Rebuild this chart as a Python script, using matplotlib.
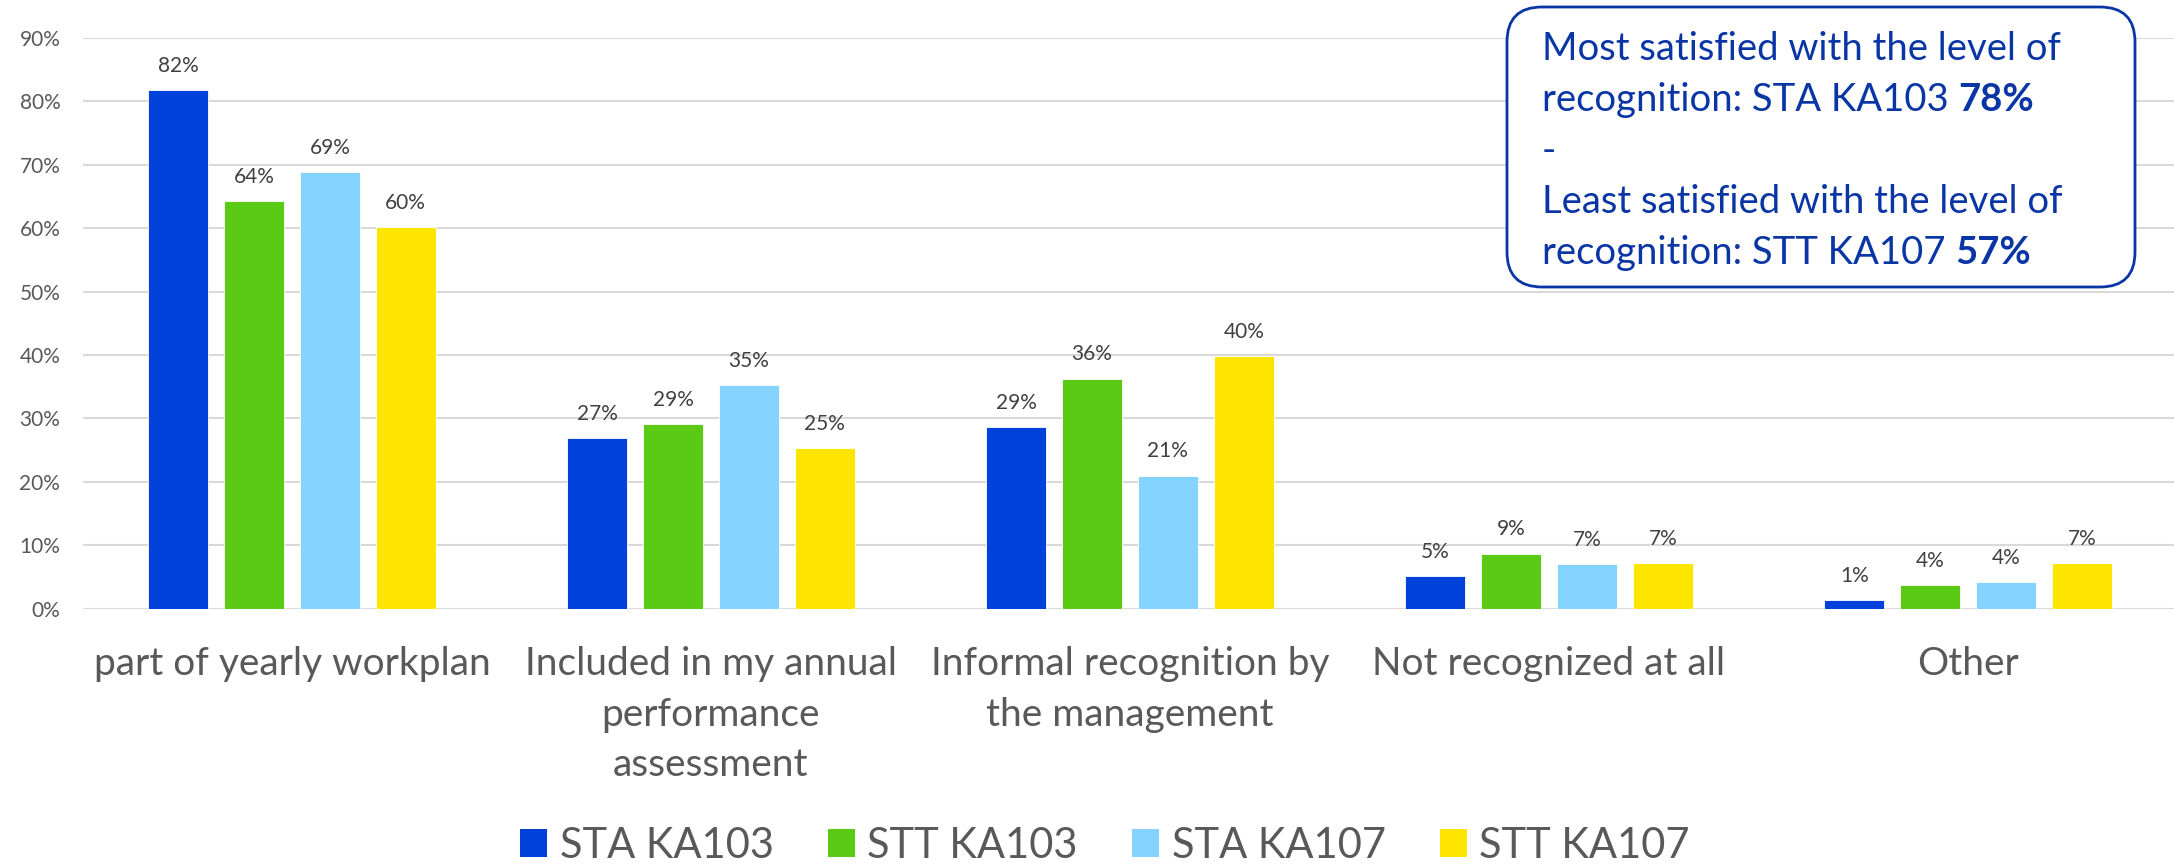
import numpy as np
import matplotlib
matplotlib.use("Agg")
import matplotlib.pyplot as plt
from matplotlib.patches import Patch, FancyBboxPatch
from matplotlib.text import Annotation
from matplotlib.transforms import IdentityTransform

categories = ["part of yearly workplan",
              "Included in my annual\nperformance\nassessment",
              "Informal recognition by\nthe management",
              "Not recognized at all",
              "Other"]
series = ["STA KA103", "STT KA103", "STA KA107", "STT KA107"]
sta_ka103 = [81.8, 26.9, 28.6, 5.2, 1.3]
stt_ka103 = [64.3, 29.1, 36.3, 8.7, 3.7]
sta_ka107 = [68.9, 35.2, 21.0, 7.0, 4.2]
stt_ka107 = [60.2, 25.4, 39.8, 7.2, 7.2]
colors = ["#0041DB", "#5BCA14", "#85D3FF", "#FFE600"]
yticks = list(range(0, 100, 10))

box_lines = ["Most satisfied with the level of",
             "recognition: STA KA103",
             "-",
             "Least satisfied with the level of",
             "recognition: STT KA107"]
box_bold = [None, "78%", None, None, "57%"]

plt.rcParams['font.family'] = ['Lato', 'DejaVu Sans']

W, H = 2174, 864
fig = plt.figure(figsize=(W / 100, H / 100), dpi=100)
ax = fig.add_axes([82.5 / W, 1 - 608.7 / H, 2095 / W, 570.7 / H])

x = np.arange(len(categories))
bw = 0.143
step = 0.181
for i, (vals, c) in enumerate(zip([sta_ka103, stt_ka103, sta_ka107, stt_ka107], colors)):
    xs = x + (i - 1.5) * step
    ax.bar(xs, vals, width=bw, color=c, edgecolor="white", linewidth=0.6, zorder=3)
    for xx, v in zip(xs, vals):
        ax.annotate(f"{round(v)}%", xy=(xx, v), xytext=(0, 13), textcoords="offset points",
                    ha="center", va="baseline", fontsize=15, color="#404040")

ax.set_xlim(-0.5, len(categories) - 0.5)
ax.set_ylim(0, 90)
ax.set_yticks(yticks)
ax.set_yticklabels([f"{t}%" for t in yticks], fontsize=15, color="#595959")
ax.set_xticks(x)
ax.set_xticklabels(categories, fontsize=28, color="#595959")
for lab in ax.get_xticklabels():
    lab.set_linespacing(1.5)
ax.tick_params(length=0)
ax.tick_params(axis="y", pad=16)
ax.tick_params(axis="x", pad=27)
for s in ax.spines.values():
    s.set_visible(False)
ax.grid(axis="y", color="#D9D9D9", linewidth=1.5, zorder=0)
ax.set_axisbelow(True)

# callout box
box = FancyBboxPatch((1507, H - 287), 628, 280, boxstyle="round,pad=0,rounding_size=35",
                     transform=IdentityTransform(), facecolor="white", edgecolor="#0A35A5",
                     linewidth=2, zorder=5)
fig.add_artist(box)
baselines = [60, 111, 162, 213, 264]
for line, bold, b in zip(box_lines, box_bold, baselines):
    t = fig.text(1542 / W, 1 - b / H, line, fontsize=27.5, color="#0A35A5",
                 va="baseline", ha="left", zorder=6)
    if bold:
        a = Annotation(bold, xy=(1, 1 - b / H), xycoords=(t, "figure fraction"),
                       xytext=(7, 0), textcoords="offset points", fontsize=27.5,
                       fontweight="bold", color="#0A35A5", va="baseline", ha="left",
                       annotation_clip=False, zorder=7)
        fig.add_artist(a)

handles = [Patch(facecolor=c, edgecolor="none") for c in colors]
fig.legend(handles, series, loc="center", bbox_to_anchor=(1105 / W, 1 - 846 / H),
           ncol=4, frameon=False, fontsize=30, handlelength=0.65, handleheight=0.65,
           handletextpad=0.3, columnspacing=1.3, labelcolor="#595959")

fig.savefig("out.png", dpi=100)
